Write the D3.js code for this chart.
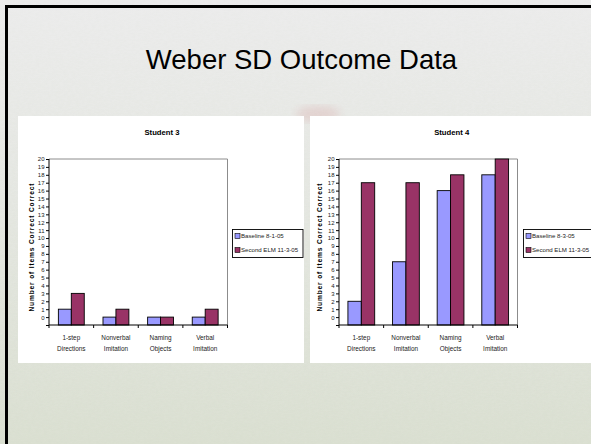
<!DOCTYPE html>
<html>
<head>
<meta charset="utf-8">
<script src="https://cdn.jsdelivr.net/npm/d3@7"></script>
<style>
  html, body { margin: 0; padding: 0; background: #ececec; }
  svg { display: block; font-family: "Liberation Sans", Arial, sans-serif; }
</style>
</head>
<body>
<div id="slide"></div>
<script>
// data
const categories = [["1-step", "Directions"], ["Nonverbal", "Imitation"], ["Naming", "Objects"], ["Verbal", "Imitation"]];
const seriesColors = ["#9999ff", "#993366"];
const student3Series = ["Baseline 8-1-05", "Second ELM 11-3-05"];
const student3Baseline = [1, 0, 0, 0];
const student3Second = [3, 1, 0, 1];
const student4Series = ["Baseline 8-3-05", "Second ELM 11-3-05"];
const student4Baseline = [2, 7, 16, 18];
const student4Second = [17, 17, 18, 20];
const yTickLabels = [0, 1, 2, 3, 4, 5, 6, 7, 8, 9, 10, 11, 12, 13, 14, 15, 16, 17, 18, 19, 20];
const yAxisTitle = "Number of Items Correct Correct";

const width = 591;
const height = 444;

const svg = d3.select("#slide")
    .append("svg")
    .attr("width", width)
    .attr("height", height);

// background - faded field photo
const defs = svg.append("defs");
const bg = defs.append("linearGradient")
    .attr("id", "bg")
    .attr("x1", 0).attr("y1", 0).attr("x2", 0).attr("y2", 1);
bg.append("stop").attr("offset", "0%").attr("stop-color", "#ececec");
bg.append("stop").attr("offset", "45%").attr("stop-color", "#e6e8e3");
bg.append("stop").attr("offset", "100%").attr("stop-color", "#dbe0d2");

const grass = defs.append("filter").attr("id", "grass")
    .attr("x", 0).attr("y", 0).attr("width", 1).attr("height", 1);
grass.append("feTurbulence")
    .attr("type", "fractalNoise")
    .attr("baseFrequency", "0.25 0.6")
    .attr("numOctaves", 2)
    .attr("seed", 4);
grass.append("feColorMatrix")
    .attr("type", "matrix")
    .attr("values", "0 0 0 0 0.66  0 0 0 0 0.71  0 0 0 0 0.6  0 0 0 0.5 -0.17");

const fade = defs.append("linearGradient")
    .attr("id", "fade")
    .attr("x1", 0).attr("y1", 0).attr("x2", 0).attr("y2", 1);
fade.append("stop").attr("offset", "0%").attr("stop-color", "#fff").attr("stop-opacity", 0.15);
fade.append("stop").attr("offset", "60%").attr("stop-color", "#fff").attr("stop-opacity", 0.7);
fade.append("stop").attr("offset", "100%").attr("stop-color", "#fff").attr("stop-opacity", 1);
defs.append("mask").attr("id", "fadeMask")
    .append("rect").attr("width", width).attr("height", height).attr("fill", "url(#fade)");

defs.append("filter").attr("id", "soft")
    .append("feGaussianBlur").attr("stdDeviation", 4);

svg.append("rect").attr("width", width).attr("height", height).attr("fill", "url(#bg)");
svg.append("rect").attr("width", width).attr("height", height)
    .attr("filter", "url(#grass)")
    .attr("mask", "url(#fadeMask)");

// faint red roof in the photo between the panels
svg.append("ellipse")
    .attr("cx", 318).attr("cy", 114).attr("rx", 22).attr("ry", 8)
    .attr("fill", "#d7a0a0").attr("opacity", 0.3)
    .attr("filter", "url(#soft)");

// slide frame (top + left)
svg.append("rect").attr("x", 5).attr("y", 5).attr("width", width).attr("height", 3).attr("fill", "#000");
svg.append("rect").attr("x", 5).attr("y", 5).attr("width", 3).attr("height", height).attr("fill", "#000");

// slide title
svg.append("text")
    .attr("x", 301.5)
    .attr("y", 69)
    .attr("text-anchor", "middle")
    .attr("font-size", 27.5)
    .attr("fill", "#000")
    .text("Weber SD Outcome Data");

// draw one excel style chart panel
function drawChart(opts) {
    const g = svg.append("g");

    g.append("rect")
        .attr("x", opts.panel[0]).attr("y", opts.panel[1])
        .attr("width", opts.panel[2]).attr("height", opts.panel[3])
        .attr("fill", "#fff");

    const top = 159, bottom = 325;
    const left = opts.plotLeft, right = opts.plotLeft + 178.5;

    const x = d3.scaleBand()
        .domain(d3.range(categories.length))
        .range([left, right])
        .paddingInner(opts.pad)
        .paddingOuter(opts.pad / 2);

    const xs = d3.scaleBand()
        .domain([0, 1])
        .range([0, x.bandwidth()]);

    const y = d3.scaleLinear()
        .domain([-1, 20])
        .range([bottom, top]);

    // plot frame
    g.append("path")
        .attr("d", "M" + left + "," + top + "H" + right + "V" + bottom)
        .attr("fill", "none")
        .attr("stroke", "#8c8c8c")
        .attr("stroke-width", 1);

    // bars
    const series = [opts.baseline, opts.second];
    series.forEach(function (vals, si) {
        g.append("g").selectAll("rect")
            .data(vals)
            .enter()
            .append("rect")
            .attr("x", function (d, i) { return x(i) + xs(si); })
            .attr("y", function (d) { return y(d); })
            .attr("width", xs.bandwidth())
            .attr("height", function (d) { return y(-1) - y(d); })
            .attr("fill", seriesColors[si])
            .attr("stroke", "#000")
            .attr("stroke-width", 0.9);
    });

    // y axis
    const yaxis = d3.axisLeft(y)
        .tickValues([-1].concat(yTickLabels))
        .tickSize(3)
        .tickPadding(1.5)
        .tickFormat(function (d) { return d < 0 ? "" : d; });
    const ya = g.append("g")
        .attr("transform", "translate(" + left + ",0)")
        .call(yaxis);
    ya.selectAll("text").attr("font-size", 6).attr("fill", "#222").attr("font-family", null);
    ya.selectAll("line, path").attr("stroke", "#000");
    ya.select(".domain").attr("d", "M0," + top + "V" + bottom);

    // x axis, ticks on the category boundaries
    const bounds = d3.range(categories.length + 1).map(function (i) { return left + i * x.step(); });
    g.append("line")
        .attr("x1", left).attr("x2", right)
        .attr("y1", bottom).attr("y2", bottom)
        .attr("stroke", "#000");
    g.append("g").selectAll("line")
        .data(bounds)
        .enter()
        .append("line")
        .attr("x1", function (d) { return d; }).attr("x2", function (d) { return d; })
        .attr("y1", bottom).attr("y2", bottom + 3)
        .attr("stroke", "#000");

    const lab = g.append("g").selectAll("text")
        .data(categories)
        .enter()
        .append("text")
        .attr("text-anchor", "middle")
        .attr("font-size", 6.4)
        .attr("fill", "#222");
    lab.append("tspan")
        .attr("x", function (d, i) { return x(i) + x.bandwidth() / 2; })
        .attr("y", 339.5)
        .text(function (d) { return d[0]; });
    lab.append("tspan")
        .attr("x", function (d, i) { return x(i) + x.bandwidth() / 2; })
        .attr("y", 350.5)
        .text(function (d) { return d[1]; });

    // y title
    g.append("text")
        .attr("transform", "translate(" + opts.yTitleX + ",247.5) rotate(-90)")
        .attr("text-anchor", "middle")
        .attr("font-size", 6.6)
        .attr("font-weight", "bold")
        .attr("textLength", 128)
        .attr("lengthAdjust", "spacing")
        .text(yAxisTitle);

    // chart title
    g.append("text")
        .attr("x", opts.titleX)
        .attr("y", 135)
        .attr("text-anchor", "middle")
        .attr("font-size", 7.7)
        .attr("font-weight", "bold")
        .text(opts.title);

    // legend
    const lx = opts.legendX;
    g.append("rect")
        .attr("x", lx).attr("y", 229.5)
        .attr("width", opts.legendW).attr("height", 28)
        .attr("fill", "#fff")
        .attr("stroke", "#000")
        .attr("stroke-width", 0.9);
    const rows = g.append("g").selectAll("g")
        .data(opts.names)
        .enter()
        .append("g")
        .attr("transform", function (d, i) { return "translate(" + lx + "," + (236 + i * 14) + ")"; });
    rows.append("rect")
        .attr("x", 2.5).attr("y", -2.5)
        .attr("width", 5).attr("height", 5)
        .attr("fill", function (d, i) { return seriesColors[i]; })
        .attr("stroke", "#000")
        .attr("stroke-width", 0.6);
    rows.append("text")
        .attr("x", 8.5)
        .attr("y", 2.2)
        .attr("font-size", 6.1)
        .attr("fill", "#222")
        .text(function (d) { return d; });
}

drawChart({
    panel: [18, 116, 286, 247],
    plotLeft: 49,
    pad: 0.42,
    baseline: student3Baseline,
    second: student3Second,
    names: student3Series,
    title: "Student 3",
    titleX: 162,
    yTitleX: 34,
    legendX: 232.5,
    legendW: 70.5
});

drawChart({
    panel: [310, 116, 290, 247],
    plotLeft: 339,
    pad: 0.40,
    baseline: student4Baseline,
    second: student4Second,
    names: student4Series,
    title: "Student 4",
    titleX: 451.7,
    yTitleX: 322,
    legendX: 523.5,
    legendW: 72
});
</script>
</body>
</html>
